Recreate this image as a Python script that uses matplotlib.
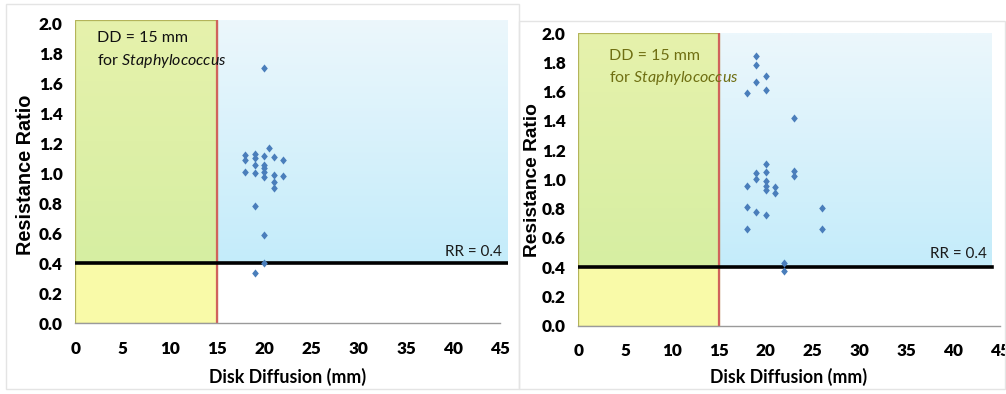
import numpy as np
import matplotlib
matplotlib.use("Agg")
import matplotlib.pyplot as plt
from matplotlib.patches import Rectangle
from matplotlib.path import Path

plt.rcParams["mathtext.fontset"] = "custom"
plt.rcParams["mathtext.rm"] = "Lato"
plt.rcParams["mathtext.it"] = "Lato:italic"

# ---------------- data ----------------
left_dd = [18, 18, 18,
           19, 19, 19, 19, 19, 19,
           20, 20, 20, 20, 20, 20, 20, 20,
           20.5,
           21, 21, 21, 21,
           22, 22]
left_rr = [1.12, 1.09, 1.01,
           1.13, 1.10, 1.055, 1.00, 0.78, 0.335,
           1.705, 1.115, 1.055, 1.033, 1.01, 0.978, 0.59, 0.405,
           1.17,
           1.11, 0.99, 0.94, 0.905,
           1.09, 0.985]

right_dd = [18, 18, 18, 18,
            19, 19, 19, 19, 19, 19,
            20, 20, 20, 20, 20, 20, 20, 20,
            21, 21,
            22, 22,
            23, 23, 23,
            26, 26]
right_rr = [1.59, 0.955, 0.81, 0.66,
            1.845, 1.785, 1.67, 1.045, 1.005, 0.78,
            1.71, 1.615, 1.105, 1.05, 0.99, 0.955, 0.93, 0.755,
            0.95, 0.905,
            0.43, 0.375,
            1.42, 1.06, 1.02,
            0.805, 0.66]

dd_threshold = 15
rr_threshold = 0.4
x_ticks = [0, 5, 10, 15, 20, 25, 30, 35, 40, 45]
y_ticks = [0.0, 0.2, 0.4, 0.6, 0.8, 1.0, 1.2, 1.4, 1.6, 1.8, 2.0]

# ---------------- style ----------------
W, H = 1006, 394
fig = plt.figure(figsize=(W / 100, H / 100), dpi=100)
fig.patch.set_facecolor("white")

def fx(px):
    return px / W

def fy(py):
    return 1 - py / H

# panel frames
for (x0, y0, x1, y1) in [(6, 4, 519, 389), (519, 21, 1005, 389)]:
    fig.patches.append(Rectangle((fx(x0), fy(y1)), fx(x1 - x0), (y1 - y0) / H,
                                 transform=fig.transFigure, fill=False,
                                 edgecolor="#e4e4e4", linewidth=1.0, zorder=0))

diamond = Path([(0, 1), (0.82, 0), (0, -1), (-0.82, 0), (0, 1)],
               [Path.MOVETO, Path.LINETO, Path.LINETO, Path.LINETO, Path.CLOSEPOLY])

def gradient(top, bottom, n=64):
    top = np.array(matplotlib.colors.to_rgb(top))
    bottom = np.array(matplotlib.colors.to_rgb(bottom))
    t = np.linspace(0, 1, n)[:, None]
    return (top * (1 - t) + bottom * t)[:, None, :]

def panel(rect, xmax, ytop, shade_x, xs, ys, text_color, ylab_size,
          dd_xy, rr_xy, xlab_coords, ylab_coords):
    ax = fig.add_axes(rect)
    ax.set_xlim(0, xmax)
    ax.set_ylim(0, ytop)
    # backgrounds
    ax.imshow(gradient("#ecf7fc", "#c4ecfa"), extent=(dd_threshold, shade_x, rr_threshold, ytop),
              aspect="auto", zorder=0, interpolation="bilinear")
    ax.imshow(gradient("#e6f2ac", "#d6eea2"), extent=(0, dd_threshold, rr_threshold, ytop),
              aspect="auto", zorder=0, interpolation="bilinear")
    ax.add_patch(Rectangle((0, 0), dd_threshold, rr_threshold, facecolor="#f9faa8",
                           edgecolor="none", zorder=0.5))
    ax.add_patch(Rectangle((0, 0), dd_threshold, ytop, fill=False,
                           edgecolor="#b4b45a", linewidth=0.9, zorder=1))
    # threshold lines
    ax.plot([dd_threshold, dd_threshold], [0, ytop], color="#d0625c", linewidth=1.6, zorder=2)
    ax.plot([0, shade_x], [rr_threshold, rr_threshold], color="black", linewidth=2.6, zorder=2)
    # points
    ax.scatter(xs, ys, marker=diamond, s=34, color="#4a7ebb", linewidths=0, zorder=3)
    # texts
    ax.text(dd_xy[0], dd_xy[1], "DD = 15 mm", color=text_color, fontsize=11.5,
            family="Lato", va="center", ha="left", zorder=4)
    ax.text(dd_xy[0], dd_xy[1] - 0.155, "for $\\it{Staphylococcus}$", color=text_color,
            fontsize=11.5, family="Lato", va="center", ha="left", zorder=4)
    ax.text(rr_xy[0], rr_xy[1], "RR = 0.4", color="#1a1a1a", fontsize=11,
            family="Lato", va="center", ha="right", zorder=4)
    # axes styling
    for s in ["top", "right", "left"]:
        ax.spines[s].set_visible(False)
    ax.spines["bottom"].set_color("#9a9a9a")
    ax.spines["bottom"].set_linewidth(1.0)
    ax.spines["bottom"].set_bounds(0, 45)
    ax.set_xticks(x_ticks)
    ax.set_xticklabels([str(v) for v in x_ticks], fontfamily="Lato",
                       fontweight="heavy", fontsize=12.3)
    ax.set_yticks(y_ticks)
    ax.set_yticklabels([f"{v:.1f}" for v in y_ticks], fontfamily="Lato",
                       fontweight="heavy", fontsize=12.3)
    ax.tick_params(axis="x", length=0, pad=12.5)
    ax.tick_params(axis="y", length=0, pad=9)
    ax.set_xlabel("Disk Diffusion (mm)", fontfamily="Lato", fontweight="bold",
                  fontsize=12.8, va="center")
    ax.xaxis.set_label_coords(*xlab_coords)
    ax.set_ylabel("Resistance Ratio", fontfamily="Liberation Sans", fontweight="bold",
                  fontsize=ylab_size, va="center")
    ax.yaxis.set_label_coords(*ylab_coords)
    ax.set_facecolor("none")
    return ax

# left panel
lx0, lx1, ly_top, ly_bot = 75.3, 508.0, 20.0, 323.3
panel([fx(lx0), fy(ly_bot), fx(lx1 - lx0), (ly_bot - ly_top) / H],
      xmax=45.8, ytop=2.022, shade_x=45.8, xs=left_dd, ys=left_rr,
      text_color="#111111", ylab_size=14.3,
      dd_xy=(2.3, 1.905), rr_xy=(45.2, 0.475),
      xlab_coords=((287.5 - lx0) / (lx1 - lx0), -0.176),
      ylab_coords=(-0.116, 0.5 + (175 - (ly_top + ly_bot) / 2) / -(ly_bot - ly_top)))

# right panel
rx0, rx1, ry_top, ry_bot = 578.3, 1000.0, 33.3, 325.5
panel([fx(rx0), fy(ry_bot), fx(rx1 - rx0), (ry_bot - ry_top) / H],
      xmax=45.0, ytop=2.0, shade_x=44.1, xs=right_dd, ys=right_rr,
      text_color="#6f6f12", ylab_size=13.8,
      dd_xy=(3.3, 1.846), rr_xy=(43.6, 0.49),
      xlab_coords=((789 - rx0) / (rx1 - rx0), -0.175),
      ylab_coords=(-0.109, 0.5 + (180 - (ry_top + ry_bot) / 2) / -(ry_bot - ry_top)))

fig.savefig("out.png", dpi=100, facecolor="white")
